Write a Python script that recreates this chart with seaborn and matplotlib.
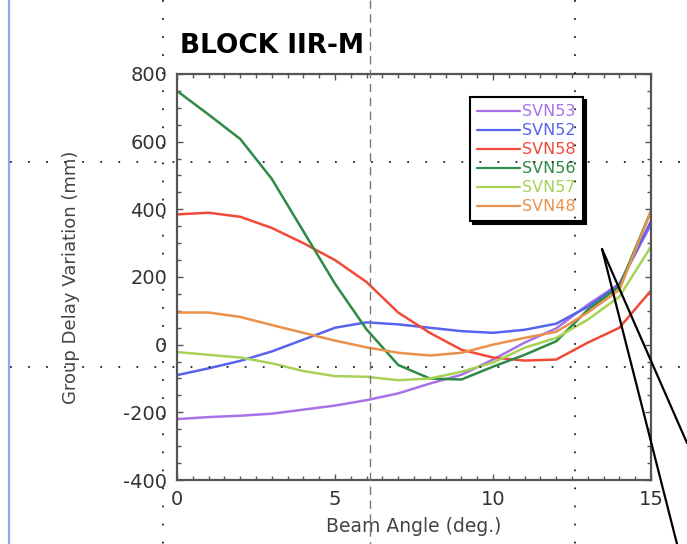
import matplotlib
matplotlib.use("Agg")
import matplotlib.pyplot as plt
from matplotlib.lines import Line2D
from matplotlib.ticker import MultipleLocator
import seaborn as sns
import pandas as pd

# ---- data ----
beam_angle = list(range(16))
svn53 = [-220, -214, -210, -204, -192, -180, -164, -144, -115, -89, -44, 6, 48, 118, 180, 355]
svn52 = [-90, -70, -48, -20, 15, 50, 66, 60, 50, 40, 35, 44, 62, 112, 178, 365]
svn58 = [385, 390, 378, 345, 300, 250, 185, 95, 35, -15, -38, -47, -44, 6, 50, 160]
svn56 = [750, 680, 608, 490, 335, 180, 45, -60, -100, -103, -65, -30, 10, 103, 172, 395]
svn57 = [-22, -30, -38, -55, -78, -93, -95, -105, -100, -80, -53, -9, 20, 74, 142, 290]
svn48 = [95, 95, 82, 58, 35, 12, -8, -24, -32, -24, 0, 20, 38, 95, 162, 395]

series_names = ["SVN53", "SVN52", "SVN58", "SVN56", "SVN57", "SVN48"]
series_values = [svn53, svn52, svn58, svn56, svn57, svn48]
series_colors = ["#a872e6", "#5863ee", "#f24a38", "#2f8a45", "#a6d257", "#ea914c"]

title_text = "BLOCK IIR-M"
x_label = "Beam Angle (deg.)"
y_label = "Group Delay Variation (mm)"

rows = []
for name, vals in zip(series_names, series_values):
    for xv, yv in zip(beam_angle, vals):
        rows.append({"angle": xv, "gdv": yv, "sat": name})
df = pd.DataFrame(rows)

sns.set_theme(style="white")
plt.rcParams["font.family"] = ["DejaVu Sans"]
plt.rcParams["axes.unicode_minus"] = False

fig = plt.figure(figsize=(6.87, 5.44), dpi=100)
ax = fig.add_axes([177 / 687, 1 - 480 / 544, (651 - 177) / 687, (480 - 74) / 544])

sns.lineplot(data=df, x="angle", y="gdv", hue="sat", hue_order=series_names,
             palette=dict(zip(series_names, series_colors)), linewidth=1.8,
             ax=ax, legend=True)

ax.set_xlim(0, 15)
ax.set_ylim(-400, 800)
ax.xaxis.set_major_locator(MultipleLocator(5))
ax.xaxis.set_minor_locator(MultipleLocator(0.5))
ax.yaxis.set_major_locator(MultipleLocator(200))
ax.yaxis.set_minor_locator(MultipleLocator(50))
ax.tick_params(which="both", direction="in", top=True, right=True, bottom=True, left=True,
               color="#555555", width=1.0)
ax.tick_params(which="major", length=4.5, labelsize=14, labelcolor="#333333", pad=7)
ax.tick_params(which="minor", length=3)
for sp in ax.spines.values():
    sp.set_color("#555555")
    sp.set_linewidth(1.6)

ax.set_xlabel(x_label, fontsize=13.5, color="#444444", labelpad=6)
ax.set_ylabel(y_label, fontsize=13, color="#444444", labelpad=31)

fig.text(180 / 687, 1 - 46 / 544, title_text, fontsize=19, fontweight="bold",
         color="black", va="center", ha="left")

handles, labels = ax.get_legend_handles_labels()
leg = ax.legend(handles, labels, loc="upper left",
                bbox_to_anchor=((470 - 177) / 474, (480 - 97) / 406),
                fontsize=11.5, frameon=True, fancybox=False,
                shadow={"color": "black", "alpha": 1.0, "ox": 2, "oy": -2},
                edgecolor="black", framealpha=1.0, handlelength=2.7,
                handletextpad=0.1, labelspacing=0.25, borderpad=0.45,
                borderaxespad=0)
leg.get_frame().set_linewidth(1.5)
for txt, col in zip(leg.get_texts(), series_colors):
    txt.set_color(col)
for h in leg.get_lines():
    h.set_linewidth(1.6)

# ---- scan artefacts (decorations over the chart) ----
def fx(px):
    return px / 687

def fy(py):
    return 1 - py / 544

dot = dict(color="#222222", linewidth=1.3, linestyle=(0, (1, 9)), transform=fig.transFigure, zorder=20)
fig.add_artist(Line2D([fx(10), fx(687)], [fy(162), fy(162)], **dot))
fig.add_artist(Line2D([fx(10), fx(687)], [fy(367), fy(367)], **dot))
fig.add_artist(Line2D([fx(163), fx(163)], [fy(0), fy(544)], **dot))
fig.add_artist(Line2D([fx(575), fx(575)], [fy(0), fy(544)], **dot))
fig.add_artist(Line2D([fx(370), fx(370)], [fy(0), fy(544)], color="#777777", linewidth=1.0,
                      linestyle=(0, (6, 4)), transform=fig.transFigure, zorder=20))
fig.add_artist(Line2D([fx(9), fx(9)], [fy(0), fy(544)], color="#7fb0ea", linewidth=1.6,
                      transform=fig.transFigure, zorder=20))
fig.add_artist(Line2D([fx(602), fx(687)], [fy(249), fy(443)], color="black", linewidth=1.6,
                      transform=fig.transFigure, zorder=21))
fig.add_artist(Line2D([fx(602), fx(677)], [fy(249), fy(544)], color="black", linewidth=1.6,
                      transform=fig.transFigure, zorder=21))

fig.savefig("out.png", dpi=100)
